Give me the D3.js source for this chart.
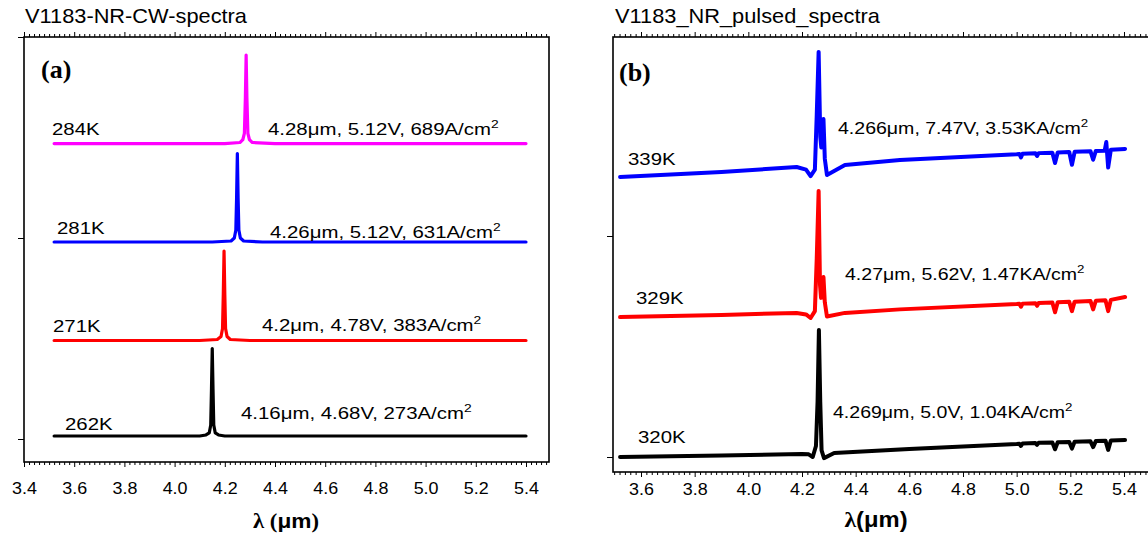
<!DOCTYPE html>
<html><head><meta charset="utf-8">
<script src="https://cdn.jsdelivr.net/npm/d3@7"></script>
<style>body{margin:0;background:#fff}</style>
</head><body><svg id="c" width="1148" height="535"></svg>
<script>
// ---------------- DATA ----------------
const xMajorA = [3.4, 3.6, 3.8, 4.0, 4.2, 4.4, 4.6, 4.8, 5.0, 5.2, 5.4];
const xMajorB = [3.6, 3.8, 4.0, 4.2, 4.4, 4.6, 4.8, 5.0, 5.2, 5.4];
const yTicksA = [0, 1, 2];
const yTicksB = [0, 1];

// Panel (a) CW spectra (offset, arbitrary units)
const cwWl262  = [3.52, 3.90, 4.10, 4.125, 4.138, 4.144, 4.147, 4.150, 4.153, 4.156, 4.162, 4.175, 4.20, 4.40, 5.40];
const cwInt262 = [0.015, 0.015, 0.015, 0.02, 0.03, 0.07, 0.25, 0.45, 0.25, 0.07, 0.03, 0.02, 0.015, 0.015, 0.015];
const cwWl271  = [3.52, 4.10, 4.17, 4.185, 4.191, 4.194, 4.197, 4.200, 4.203, 4.209, 4.222, 4.30, 5.40];
const cwInt271 = [0.49, 0.49, 0.495, 0.51, 0.55, 0.72, 0.935, 0.72, 0.55, 0.51, 0.495, 0.49, 0.49];
const cwWl281  = [3.52, 4.15, 4.225, 4.238, 4.244, 4.247, 4.250, 4.253, 4.256, 4.262, 4.275, 4.35, 5.40];
const cwInt281 = [0.98, 0.98, 0.985, 1.00, 1.04, 1.20, 1.42, 1.20, 1.04, 1.00, 0.985, 0.98, 0.98];
const cwWl284  = [3.52, 4.20, 4.26, 4.272, 4.278, 4.282, 4.285, 4.288, 4.292, 4.298, 4.31, 4.40, 5.40];
const cwInt284 = [1.47, 1.47, 1.475, 1.49, 1.52, 1.70, 1.91, 1.70, 1.52, 1.49, 1.475, 1.47, 1.47];

// Panel (b) pulsed spectra (offset, arbitrary units)
const puWl320  = [3.522, 3.90, 4.20, 4.225, 4.240, 4.252, 4.258, 4.263, 4.268, 4.273, 4.282, 4.32, 4.60, 5.00, 5.010, 5.016, 5.022, 5.070, 5.076, 5.082, 5.133, 5.143, 5.153, 5.196, 5.206, 5.216, 5.275, 5.285, 5.295, 5.331, 5.341, 5.351, 5.404];
const puInt320 = [0.000, 0.007, 0.014, 0.012, 0.000, 0.05, 0.25, 0.575, 0.25, 0.03, -0.005, 0.018, 0.036, 0.059, 0.060, 0.050, 0.061, 0.063, 0.055, 0.064, 0.066, 0.035, 0.067, 0.068, 0.038, 0.069, 0.071, 0.045, 0.072, 0.074, 0.032, 0.075, 0.077];
const puWl329  = [3.522, 3.90, 4.18, 4.215, 4.232, 4.248, 4.255, 4.262, 4.267, 4.271, 4.276, 4.280, 4.285, 4.293, 4.36, 4.565, 5.00, 5.010, 5.016, 5.022, 5.070, 5.076, 5.082, 5.133, 5.143, 5.153, 5.196, 5.206, 5.216, 5.275, 5.285, 5.295, 5.331, 5.341, 5.351, 5.404];
const puInt329 = [0.633, 0.643, 0.652, 0.645, 0.629, 0.66, 0.90, 1.204, 0.78, 0.72, 0.76, 0.814, 0.70, 0.636, 0.652, 0.668, 0.692, 0.693, 0.680, 0.694, 0.696, 0.684, 0.697, 0.699, 0.655, 0.700, 0.702, 0.660, 0.703, 0.706, 0.668, 0.707, 0.709, 0.660, 0.711, 0.724];
const puWl339  = [3.522, 3.90, 4.18, 4.215, 4.232, 4.248, 4.255, 4.262, 4.268, 4.272, 4.276, 4.280, 4.285, 4.293, 4.36, 4.565, 5.00, 5.010, 5.016, 5.022, 5.070, 5.076, 5.082, 5.133, 5.143, 5.153, 5.196, 5.206, 5.216, 5.275, 5.285, 5.295, 5.328, 5.334, 5.341, 5.351, 5.404];
const puInt339 = [1.267, 1.290, 1.312, 1.300, 1.271, 1.30, 1.55, 1.833, 1.45, 1.40, 1.45, 1.529, 1.35, 1.276, 1.321, 1.344, 1.370, 1.371, 1.355, 1.372, 1.374, 1.362, 1.375, 1.377, 1.330, 1.378, 1.380, 1.322, 1.381, 1.384, 1.345, 1.385, 1.386, 1.425, 1.310, 1.390, 1.394];

const titlesText = ["V1183-NR-CW-spectra", "V1183_NR_pulsed_spectra"];
const tempsA = ["284K", "281K", "271K", "262K"];
const notesA = [["4.28", ", 5.12V, 689A/cm"], ["4.26", ", 5.12V, 631A/cm"], ["4.2", ", 4.78V, 383A/cm"], ["4.16", ", 4.68V, 273A/cm"]];
const tempsB = ["339K", "329K", "320K"];
const notesB = [["4.266", ", 7.47V, 3.53KA/cm"], ["4.27", ", 5.62V, 1.47KA/cm"], ["4.269", ", 5.0V, 1.04KA/cm"]];

// ---------------- DRAWING ----------------
const SX = 1.2;
const FONT = "'Liberation Sans', Arial, sans-serif";
const SERIF = "'Liberation Serif', 'Times New Roman', serif";
const svg = d3.select('#c');
svg.append('rect').attr('width', 1148).attr('height', 535).attr('fill', '#fff');

const zip = (a, b) => a.map((v, i) => [v, b[i]]);

function stretchedText(g, x, y, size, parts, opts = {}) {
  const t = g.append('text')
    .attr('transform', `translate(${x},${y}) scale(${opts.sx || SX},1)`)
    .attr('font-family', opts.family || FONT)
    .attr('font-size', size)
    .attr('font-weight', opts.weight || 'normal')
    .attr('text-anchor', opts.anchor || 'start')
    .attr('fill', '#000');
  parts.forEach(p => {
    const s = t.append('tspan').text(p.t);
    if (p.sup) s.attr('dy', -7).attr('font-size', size * 0.68);
    if (p.family) s.attr('font-family', p.family);
    if (p.weight) s.attr('font-weight', p.weight);
  });
  return t;
}

function panel(cfg, id) {
  const x = d3.scaleLinear().domain(cfg.xDomain).range([cfg.left, cfg.right]);
  const y = d3.scaleLinear().domain(cfg.yDomain).range([cfg.bottom, cfg.top]);
  const g = svg.append('g');
  const minors = d3.range(0, 140).map(i => +(3.4 + i * 0.02).toFixed(2))
    .filter(v => v >= cfg.xDomain[0] - 1e-9 && v <= cfg.xDomain[1] + 1e-9 && !cfg.xMajor.some(m => Math.abs(m - v) < 1e-6));

  svg.append('clipPath').attr('id', 'clip' + id).append('rect')
    .attr('x', cfg.left).attr('y', cfg.top).attr('width', cfg.right - cfg.left).attr('height', cfg.bottom - cfg.top);

  const line = d3.line().x(d => x(d[0])).y(d => y(d[1]));
  cfg.series.forEach(s => {
    g.append('path').attr('d', line(zip(s.wl, s.int)))
      .attr('fill', 'none').attr('stroke', s.color).attr('stroke-width', cfg.lineWidth)
      .attr('stroke-linejoin', 'round').attr('stroke-linecap', 'round')
      .attr('clip-path', `url(#clip${id})`);
  });

  const fmt = d3.format('.1f');
  const bMaj = g.append('g').attr('transform', `translate(0,${cfg.bottom})`)
    .call(d3.axisBottom(x).tickValues(cfg.xMajor).tickSize(5).tickFormat(fmt));
  bMaj.selectAll('text').attr('y', cfg.labelY).attr('dy', 0)
    .attr('font-family', FONT).attr('font-size', 16).attr('fill', '#000')
    .attr('transform', `scale(1.12,1)`);
  g.append('g').attr('transform', `translate(0,${cfg.bottom})`)
    .call(d3.axisBottom(x).tickValues(minors).tickSize(3).tickFormat(''));
  g.append('g').attr('transform', `translate(0,${cfg.top})`)
    .call(d3.axisTop(x).tickValues(cfg.xMajor).tickSize(5).tickFormat(''));
  g.append('g').attr('transform', `translate(0,${cfg.top})`)
    .call(d3.axisTop(x).tickValues(minors).tickSize(3).tickFormat(''));
  g.append('g').attr('transform', `translate(${cfg.left},0)`)
    .call(d3.axisLeft(y).tickValues(cfg.yTicks).tickSize(6).tickFormat(''));
  g.selectAll('.domain').remove();
  g.selectAll('.tick line').attr('stroke', '#000').attr('stroke-width', 1);

  g.append('rect').attr('x', cfg.left).attr('y', cfg.top)
    .attr('width', cfg.right - cfg.left).attr('height', cfg.bottom - cfg.top)
    .attr('fill', 'none').attr('stroke', '#000').attr('stroke-width', 1.6);
  return { g, x, y };
}

// Panel (a)
panel({
  left: 24, right: 549, top: 37, bottom: 462,
  xDomain: [3.4, 3.4 + 525 / 251], yDomain: [-23 / 201, 2.0],
  xMajor: xMajorA, yTicks: yTicksA, labelY: 32, lineWidth: 3.2,
  series: [
    { wl: cwWl262, int: cwInt262, color: '#000000' },
    { wl: cwWl271, int: cwInt271, color: '#ff0000' },
    { wl: cwWl281, int: cwInt281, color: '#0000ff' },
    { wl: cwWl284, int: cwInt284, color: '#ff00ff' }
  ]
}, 'A');

// Panel (b)
panel({
  left: 613, right: 1150, top: 37, bottom: 472,
  xDomain: [3.6 - 28 / 268.3, 5.4 + 26 / 268.3], yDomain: [-15 / 221, 420 / 221],
  xMajor: xMajorB, yTicks: yTicksB, labelY: 23, lineWidth: 4,
  series: [
    { wl: puWl320, int: puInt320, color: '#000000' },
    { wl: puWl329, int: puInt329, color: '#ff0000' },
    { wl: puWl339, int: puInt339, color: '#0000ff' }
  ]
}, 'B');

// titles
stretchedText(svg, 25, 23, 20, [{ t: titlesText[0] }], { sx: 1.09 });
stretchedText(svg, 615, 23, 20, [{ t: titlesText[1] }], { sx: 1.09 });

// panel letters
stretchedText(svg, 41, 78, 26, [{ t: '(a)' }], { family: SERIF, weight: 'bold', sx: 1 });
stretchedText(svg, 619, 81, 26, [{ t: '(b)' }], { family: SERIF, weight: 'bold', sx: 1 });

// panel (a) annotations
const tempPosA = [[52, 135], [57, 234], [53, 332], [65, 430]];
const notePosA = [[268, 135], [270, 238], [262, 331], [241, 419]];
tempsA.forEach((t, i) => stretchedText(svg, tempPosA[i][0], tempPosA[i][1], 17, [{ t }]));
notesA.forEach((n, i) => stretchedText(svg, notePosA[i][0], notePosA[i][1], 17,
  [{ t: n[0] }, { t: 'μm' }, { t: n[1] }, { t: '2', sup: true }]));

// panel (b) annotations
const tempPosB = [[628, 165], [636, 304], [638, 443]];
const notePosB = [[838, 134], [845, 280], [833, 418]];
tempsB.forEach((t, i) => stretchedText(svg, tempPosB[i][0], tempPosB[i][1], 17, [{ t }]));
notesB.forEach((n, i) => stretchedText(svg, notePosB[i][0], notePosB[i][1], 17,
  [{ t: n[0] }, { t: 'μm' }, { t: n[1] }, { t: '2', sup: true }], { sx: 1.15 }));

// axis titles
stretchedText(svg, 286, 528, 21, [{ t: 'λ', family: SERIF }, { t: ' (', family: SERIF }, { t: 'μm' }, { t: ')', family: SERIF }],
  { weight: 'bold', anchor: 'middle', sx: 1.08 });
stretchedText(svg, 876, 527, 22, [{ t: 'λ', family: SERIF }, { t: '(μm)' }],
  { weight: 'bold', anchor: 'middle', sx: 1.08 });
</script>
</body></html>
